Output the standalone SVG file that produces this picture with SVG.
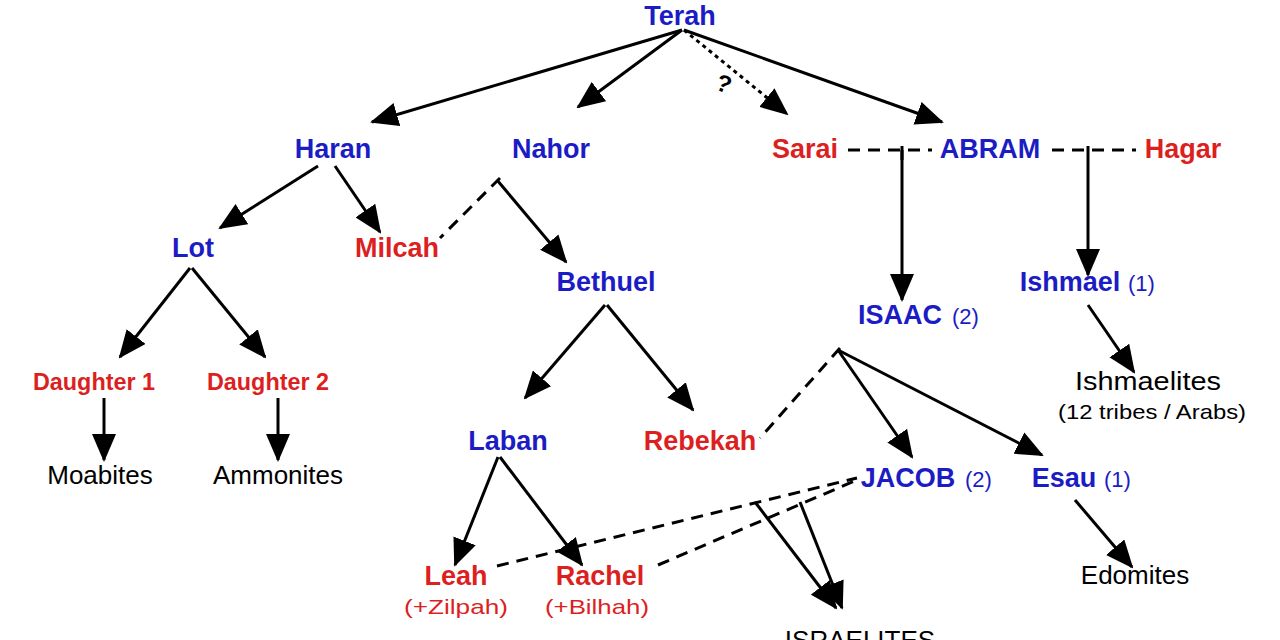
<svg xmlns="http://www.w3.org/2000/svg" width="1280" height="640" viewBox="0 0 1280 640">
<style>
text{font-family:"Liberation Sans",Arial,sans-serif;text-anchor:middle}
.b{fill:#1c1cc4;font-weight:bold;font-size:27px}
.r{fill:#dc1f1f;font-weight:bold;font-size:27px}
.d{fill:#dc1f1f;font-weight:bold;font-size:23px}
.k{fill:#000;font-size:26px}
.n{fill:#1c1cc4;font-size:22px;text-anchor:start}
.s{fill:#dc1f1f;font-size:21px}
.t{fill:#000;font-size:21px}
line{stroke:#000;stroke-width:3}
.a{marker-end:url(#ah)}
.da{stroke-dasharray:12 8}
.do{stroke-dasharray:4 4}
</style>
<defs><marker id="ah" markerUnits="userSpaceOnUse" markerWidth="28" markerHeight="24" refX="26" refY="12" orient="auto"><path d="M0,0 L28,12 L0,24 Z" fill="#000"/></marker></defs>
<rect width="1280" height="640" fill="#fff"/>
<g id="connectors">
<line class="a" x1="682" y1="30" x2="372" y2="122"/>
<line class="a" x1="682" y1="30" x2="578" y2="107"/>
<line class="a do" x1="684" y1="30" x2="787" y2="114"/>
<line class="a" x1="684" y1="30" x2="942" y2="122"/>
<line class="a" x1="318" y1="166" x2="220" y2="228"/>
<line class="a" x1="335" y1="166" x2="380" y2="232"/>
<line class="da" x1="500" y1="178" x2="440" y2="238"/>
<line class="a" x1="497" y1="180" x2="566" y2="262"/>
<line class="da" x1="848" y1="150" x2="932" y2="150"/>
<line x1="902" y1="146" x2="902" y2="160"/>
<line class="a" x1="902" y1="150" x2="902" y2="300"/>
<line class="da" x1="1052" y1="150" x2="1136" y2="150"/>
<line class="a" x1="1088" y1="146" x2="1088" y2="275"/>
<line class="a" x1="190" y1="268" x2="120" y2="357"/>
<line class="a" x1="192" y1="268" x2="265" y2="357"/>
<line class="a" x1="104" y1="398" x2="104" y2="460"/>
<line class="a" x1="278" y1="398" x2="278" y2="460"/>
<line class="a" x1="605" y1="305" x2="525" y2="398"/>
<line class="a" x1="607" y1="305" x2="693" y2="410"/>
<line class="a" x1="1088" y1="305" x2="1134" y2="372"/>
<line class="da" x1="840" y1="348" x2="760" y2="438"/>
<line class="a" x1="838" y1="350" x2="912" y2="457"/>
<line class="a" x1="838" y1="350" x2="1042" y2="455"/>
<line class="a" x1="1075" y1="500" x2="1132" y2="567"/>
<line class="a" x1="498" y1="457" x2="455" y2="565"/>
<line class="a" x1="500" y1="457" x2="582" y2="565"/>
<line class="da" x1="497" y1="566" x2="857" y2="478"/>
<line class="da" x1="658" y1="565" x2="857" y2="480"/>
<line class="a" x1="755" y1="502" x2="836" y2="608"/>
<line class="a" x1="800" y1="502" x2="842" y2="608"/>
</g>
<g id="terah"><text class="b" x="680" y="25">Terah</text></g>
<text x="724" y="92" font-size="24" font-weight="bold" transform="rotate(20 724 84)" style="fill:#000">?</text>
<g id="haran"><text class="b" x="333" y="158">Haran</text></g>
<g id="nahor"><text class="b" x="551" y="158">Nahor</text></g>
<g id="sarai"><text class="r" x="805" y="158">Sarai</text></g>
<g id="abram"><text class="b" x="990" y="158">ABRAM</text></g>
<g id="hagar"><text class="r" x="1183" y="158">Hagar</text></g>
<g id="lot"><text class="b" x="193" y="257">Lot</text></g>
<g id="milcah"><text class="r" x="397" y="257">Milcah</text></g>
<g id="bethuel"><text class="b" x="606" y="291">Bethuel</text></g>
<g id="isaac"><text class="b" x="900" y="324">ISAAC</text><text class="n" x="952" y="324">(2)</text></g>
<g id="ishmael"><text class="b" x="1070" y="291">Ishmael</text><text class="n" x="1128" y="291">(1)</text></g>
<g id="daughter1"><text class="d" x="94" y="390" textLength="122" lengthAdjust="spacingAndGlyphs">Daughter 1</text></g>
<g id="daughter2"><text class="d" x="268" y="390" textLength="122" lengthAdjust="spacingAndGlyphs">Daughter 2</text></g>
<g id="ishmaelites"><text class="k" x="1148" y="390" textLength="146" lengthAdjust="spacingAndGlyphs">Ishmaelites</text><text class="t" x="1152" y="419" textLength="188" lengthAdjust="spacingAndGlyphs">(12 tribes / Arabs)</text></g>
<g id="moabites"><text class="k" x="100" y="484">Moabites</text></g>
<g id="ammonites"><text class="k" x="278" y="484">Ammonites</text></g>
<g id="laban"><text class="b" x="508" y="450">Laban</text></g>
<g id="rebekah"><text class="r" x="700" y="450">Rebekah</text></g>
<g id="jacob"><text class="b" x="908" y="487">JACOB</text><text class="n" x="965" y="487">(2)</text></g>
<g id="esau"><text class="b" x="1064" y="487">Esau</text><text class="n" x="1104" y="487">(1)</text></g>
<g id="edomites"><text class="k" x="1135" y="584">Edomites</text></g>
<g id="leah"><text class="r" x="456" y="585">Leah</text><text class="s" x="456" y="614" textLength="104" lengthAdjust="spacingAndGlyphs">(+Zilpah)</text></g>
<g id="rachel"><text class="r" x="600" y="585">Rachel</text><text class="s" x="597" y="614" textLength="104" lengthAdjust="spacingAndGlyphs">(+Bilhah)</text></g>
<g id="israelites"><text class="k" x="860" y="649">ISRAELITES</text></g>
</svg>
